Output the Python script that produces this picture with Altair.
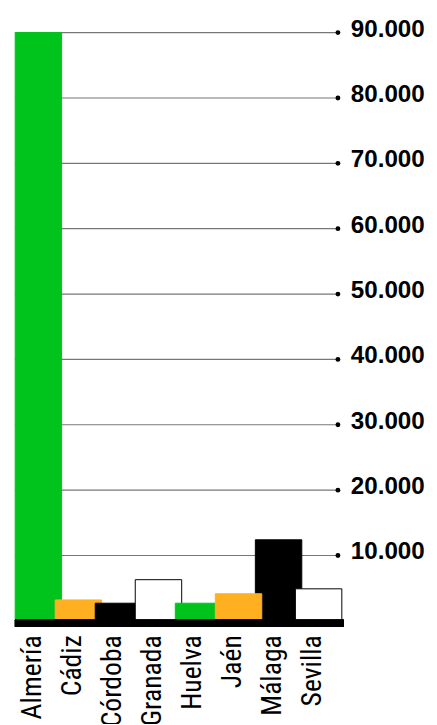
import altair as alt
import pandas as pd

provinces = ["Almería", "Cádiz", "Córdoba", "Granada", "Huelva", "Jaén", "Málaga", "Sevilla"]
values = [90000, 3200, 2700, 6300, 2700, 4150, 12400, 4900]
colors = ["#00C41C", "#FFB020", "#000000", "#FFFFFF", "#00C41C", "#FFB020", "#000000", "#FFFFFF"]
draw_order = [0, 1, 2, 3, 4, 6, 5, 7]  # Jaén drawn over Málaga

tick_values = [10000, 20000, 30000, 40000, 50000, 60000, 70000, 80000, 90000]
tick_labels = ["10.000", "20.000", "30.000", "40.000", "50.000", "60.000", "70.000", "80.000", "90.000"]

bars = pd.DataFrame({
    "provincia": [provinces[i] for i in draw_order],
    "valor": [values[i] for i in draw_order],
    "color": [colors[i] for i in draw_order],
})
ticks = pd.DataFrame({"v": tick_values, "label": tick_labels})

W = 324.2
H = 595.5

yscale = alt.Scale(domain=[0, 90000], nice=False, zero=True)
xscale = alt.Scale(domain=provinces, paddingInner=0, paddingOuter=0)

grid = alt.Chart(ticks).mark_rule(color="#777777", strokeWidth=1.2).encode(
    y=alt.Y("v:Q", scale=yscale, axis=None),
    x=alt.value(0),
    x2=alt.value(327),
)
dots = alt.Chart(ticks).mark_point(filled=True, color="#000000", size=24, opacity=1).encode(
    y=alt.Y("v:Q", scale=yscale, axis=None),
    x=alt.value(327),
)
labels = alt.Chart(ticks).mark_text(
    align="left", baseline="middle", font="Liberation Sans", fontWeight="bold",
    fontSize=24.5, color="#000000", dy=-3
).encode(
    y=alt.Y("v:Q", scale=yscale, axis=None),
    x=alt.value(340),
    text="label:N",
)

bar = alt.Chart(bars).mark_bar(width=47, xOffset=3.5, strokeWidth=1).encode(
    x=alt.X("provincia:N", scale=xscale, sort=provinces, title=None,
            axis=alt.Axis(labelAngle=-90, labelAlign="right", labelBaseline="middle",
                          labelFont="Liberation Sans Narrow, Roboto Condensed, Arial Narrow, sans-serif",
                          labelFontSize=28, labelColor="#000000", labelPadding=14,
                          labelOffset=-2, domain=False, ticks=False, grid=False)),
    y=alt.Y("valor:Q", scale=yscale, axis=None),
    fill=alt.Fill("color:N", scale=None),
    stroke=alt.Stroke("color:N", scale=alt.Scale(domain=["#00C41C", "#FFB020", "#000000", "#FFFFFF"],
                                                  range=["#00C41C", "#FFB020", "#000000", "#000000"]),
                      legend=None),
)

baseline = alt.Chart(ticks).mark_rule(color="#000000", strokeWidth=7).encode(
    x=alt.value(0), x2=alt.value(333), y=alt.value(H + 2.5)
)

chart = alt.layer(grid, bar, baseline, dots, labels).properties(
    width=W, height=H,
    autosize=alt.AutoSizeParams(type="none"),
    padding={"left": 7, "top": 20.5, "right": 95, "bottom": 100},
).configure_view(stroke=None)

chart.save("out.html", embed_options={"renderer": "svg", "actions": False})
